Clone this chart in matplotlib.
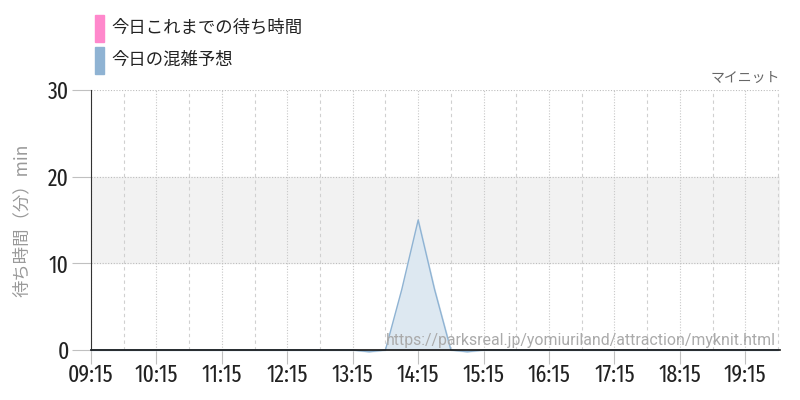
import matplotlib.pyplot as plt
import matplotlib.patches as mpatches

plt.rcParams['font.family'] = ['Noto Sans CJK JP', 'DejaVu Sans']

# forecast every 15 min from 09:15 to 19:45 (minutes)
times_h = [9.25 + 0.25 * i for i in range(43)]
forecast = [0, 0, 0, 0, 0, 0, 0, 0, 0, 0, 0, 0, 0, 0, 0, 0,
            0, -0.2, 0, 7, 15, 7, 0, -0.2, 0, 0, 0, 0, 0, 0,
            0, 0, 0, 0, 0, 0, 0, 0, 0, 0, 0, 0, 0]
tick_labels = ['09:15', '10:15', '11:15', '12:15', '13:15', '14:15',
               '15:15', '16:15', '17:15', '18:15', '19:15']
y_ticks = [0, 10, 20, 30]

num_font = ['Fira Sans Extra Condensed', 'Roboto Condensed', 'DejaVu Sans']

fig = plt.figure(figsize=(8, 4), dpi=100)
ax = fig.add_axes([0.11375, 0.125, 0.86125, 0.65])

ax.axhspan(10, 20, color='#f2f2f2', zorder=0)
ax.fill_between(times_h, forecast, 0, color='#dde8f1', zorder=2, clip_on=False)
ax.plot(times_h, forecast, color='#8fb3d3', lw=1, zorder=3, clip_on=False)

ax.set_xlim(9.25, 19.78)
ax.set_ylim(0, 30)

hour_ticks = [9.25 + i for i in range(len(tick_labels))]
half_ticks = [9.75 + i for i in range(len(tick_labels))]
for x in hour_ticks:
    ax.axvline(x, color='#c8c8c8', lw=0.8, ls=(0, (1, 1.5)), zorder=1)
for x in half_ticks:
    ax.axvline(x, color='#d0d0d0', lw=0.8, ls=(0, (3, 3)), zorder=1)
for y in y_ticks[1:]:
    ax.axhline(y, color='#bdbdbd', lw=0.8, ls=(0, (1, 1.5)), zorder=1)

ax.set_xticks(hour_ticks)
ax.set_xticklabels(tick_labels, family=num_font, fontsize=17, weight='normal', color='#222222')
ax.set_yticks(y_ticks)
ax.set_yticklabels([str(v) for v in y_ticks], family=num_font, fontsize=17, weight='normal', color='#222222')
ax.tick_params(axis='x', length=10, color='#c0c0c0', pad=0)
ax.tick_params(axis='y', length=14, color='#c0c0c0', pad=2)

for s in ['top', 'right']:
    ax.spines[s].set_visible(False)
ax.spines['left'].set_color('#333333')
ax.spines['bottom'].set_color('#111111')
ax.spines['bottom'].set_linewidth(1.2)
ax.spines['bottom'].set_zorder(4)

ax.set_ylabel('待ち時間（分）min', color='#999999', fontsize=12.5, labelpad=12)

# legend
fig.patches.append(mpatches.Rectangle((95 / 800, 1 - 42 / 400), 9 / 800, 27 / 400,
                                      color='#ff88cc', transform=fig.transFigure))
fig.patches.append(mpatches.Rectangle((95 / 800, 1 - 74 / 400), 9 / 800, 27 / 400,
                                      color='#8fb3d3', transform=fig.transFigure))
fig.text(111 / 800, 1 - 28 / 400, '今日これまでの待ち時間', fontsize=12.5,
         color='#222222', va='center')
fig.text(111 / 800, 1 - 60 / 400, '今日の混雑予想', fontsize=12.5,
         color='#222222', va='center')

fig.text(780 / 800, 1 - 78 / 400, 'マイニット', fontsize=10, color='#666666',
         ha='right', va='center')
fig.text(776 / 800, 1 - 340 / 400,
         'https://parksreal.jp/yomiuriland/attraction/myknit.html',
         fontsize=11.4, color='#aaaaaa', ha='right', va='center',
         family=['Roboto', 'DejaVu Sans'], zorder=5)

fig.savefig('out.png', dpi=100)
